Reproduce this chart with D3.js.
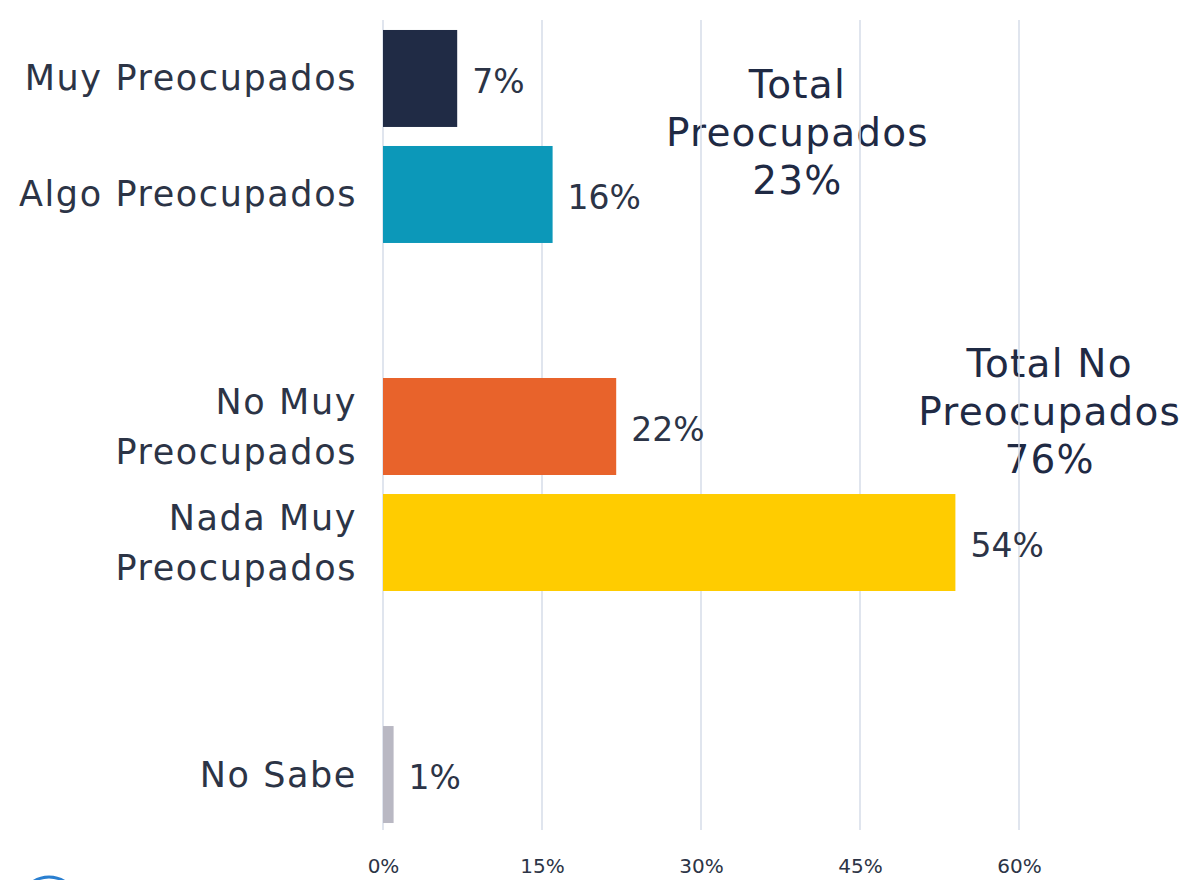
<!DOCTYPE html>
<html>
<head>
<meta charset="utf-8">
<script src="https://cdn.jsdelivr.net/npm/d3@7"></script>
<style>
  body { margin: 0; background: #fff; }
  svg { display: block; font-family: "DejaVu Sans", sans-serif; }
</style>
</head>
<body>
<svg id="chart" width="1191" height="880"></svg>
<script>
// categories, blank slots keep the gaps between groups
var categories = ["Muy Preocupados", "Algo Preocupados", "gap1", "No Muy Preocupados", "Nada Muy Preocupados", "gap2", "No Sabe"];
var labelLines = [["Muy Preocupados"], ["Algo Preocupados"], [], ["No Muy", "Preocupados"], ["Nada Muy", "Preocupados"], [], ["No Sabe"]];
var values = [7, 16, null, 22, 54, null, 1];
var colors = ["#202b45", "#0c98b9", null, "#e8632b", "#ffcc00", null, "#b9b8c3"];
var ticks = [0, 15, 30, 45, 60];
var totals = [
    {lines: ["Total", "Preocupados", "23%"], x: 39, band: "Muy Preocupados", dy: 55},
    {lines: ["Total No", "Preocupados", "76%"], x: 62.8, band: "No Muy Preocupados", dy: -15}
];

var svg = d3.select("svg#chart");
var textColor = "#2c3446";

var x = d3.scaleLinear().domain([0, 60]).range([383, 1019]);
var y = d3.scaleBand().domain(categories).range([20, 833])
    .paddingInner(0.164).paddingOuter(0.086);

// annotations under the grid
totals.forEach(function (t) {
    var top = y(t.band) + t.dy;
    t.lines.forEach(function (line, i) {
        svg.append("text")
            .attr("x", x(t.x) + 1)
            .attr("y", top + i * 48)
            .attr("text-anchor", "middle")
            .attr("dominant-baseline", "central")
            .attr("fill", "#1f2a44")
            .style("font-size", "39px")
            .style("letter-spacing", "1.2px")
            .text(line);
    });
});

// grid
svg.append("g").selectAll("line")
    .data(ticks).enter().append("line")
    .attr("x1", function (d) { return x(d); })
    .attr("x2", function (d) { return x(d); })
    .attr("y1", 20).attr("y2", 830)
    .attr("stroke", "#d6dde9").attr("stroke-width", 1.5);

var xAxis = d3.axisBottom(x).tickValues(ticks).tickSize(0)
    .tickFormat(function (d) { return d + "%"; });
var gx = svg.append("g").attr("transform", "translate(0,856)").call(xAxis);
gx.select(".domain").remove();
gx.selectAll("text").attr("fill", textColor).style("font-size", "20px")
    .style("font-family", "DejaVu Sans, sans-serif");

var data = categories.map(function (c, i) {
    return {cat: c, value: values[i], color: colors[i], lines: labelLines[i]};
}).filter(function (d) { return d.value !== null; });

// bars
svg.append("g").selectAll("rect")
    .data(data).enter().append("rect")
    .attr("x", x(0))
    .attr("y", function (d) { return y(d.cat); })
    .attr("width", function (d) { return x(d.value) - x(0); })
    .attr("height", y.bandwidth())
    .attr("fill", function (d) { return d.color; });

// value labels
svg.append("g").selectAll("text")
    .data(data).enter().append("text")
    .attr("x", function (d) { return x(d.value) + 15; })
    .attr("y", function (d) { return y(d.cat) + y.bandwidth() / 2 + 3; })
    .attr("dominant-baseline", "central")
    .attr("fill", textColor)
    .style("font-size", "33px")
    .text(function (d) { return d.value + "%"; });

// category labels
data.forEach(function (d) {
    var mid = y(d.cat) + y.bandwidth() / 2;
    var n = d.lines.length;
    d.lines.forEach(function (line, i) {
        svg.append("text")
            .attr("x", 357)
            .attr("y", mid + (i - (n - 1) / 2) * 50)
            .attr("text-anchor", "end")
            .attr("dominant-baseline", "central")
            .attr("fill", textColor)
            .style("font-size", "35px")
            .style("letter-spacing", "1.6px")
            .text(line);
    });
});

// logo fragment bottom left
svg.append("circle")
    .attr("cx", 49).attr("cy", 906).attr("r", 29)
    .attr("fill", "none").attr("stroke", "#2a7fd0").attr("stroke-width", 3);
</script>
</body>
</html>
